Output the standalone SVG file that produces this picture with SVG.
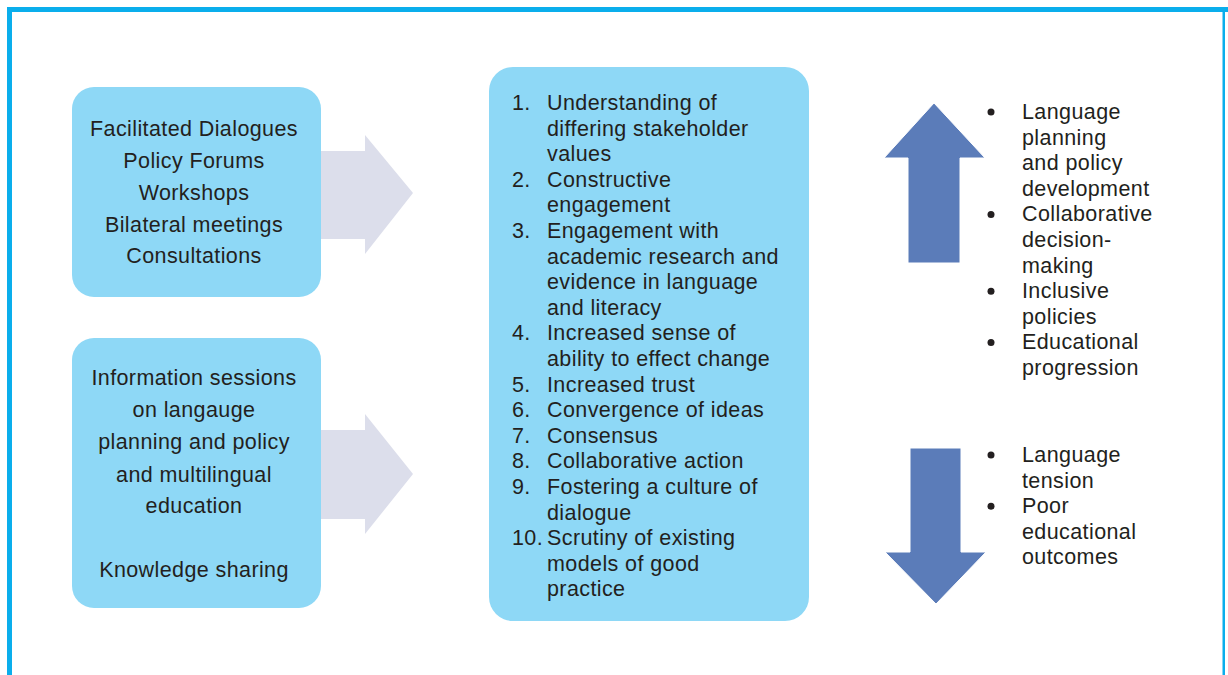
<svg xmlns="http://www.w3.org/2000/svg" width="1228" height="675" viewBox="0 0 1228 675">
<style>
.box{fill:#8ED8F6}
.flow{fill:#DCDEEB}
.big{fill:#5B7CB9;stroke:#FFFFFF;stroke-width:1}
text{font-family:"Liberation Sans",Arial,sans-serif;font-size:21.5px;letter-spacing:0.4px;fill:#231F20}
.c{text-anchor:middle}
.dot{fill:#231F20}
</style>
<rect x="0" y="0" width="1228" height="675" fill="#FFFFFF"/>
<g id="frame" fill="#0AAEEC">
<rect x="7" y="7" width="1221" height="5"/>
<rect x="7" y="7" width="5" height="668"/>
<rect x="1222.5" y="7" width="2.5" height="668"/>
</g>
<g id="connectors">
<polygon class="flow" points="321,151 365,151 365,135 413,193 365,254 365,239 321,239"/>
<polygon class="flow" points="321,430 365,430 365,414 413,474 365,534 365,519 321,519"/>
</g>
<g id="inputs1">
<rect class="box" x="72" y="87" width="249" height="210" rx="22"/>
<text class="c" x="194" y="136">Facilitated Dialogues</text>
<text class="c" x="194" y="168">Policy Forums</text>
<text class="c" x="194" y="200">Workshops</text>
<text class="c" x="194" y="232">Bilateral meetings</text>
<text class="c" x="194" y="263">Consultations</text>
</g>
<g id="inputs2">
<rect class="box" x="72" y="338" width="249" height="270" rx="22"/>
<text class="c" x="194" y="385">Information sessions</text>
<text class="c" x="194" y="417">on langauge</text>
<text class="c" x="194" y="449">planning and policy</text>
<text class="c" x="194" y="482">and multilingual</text>
<text class="c" x="194" y="513">education</text>
<text class="c" x="194" y="577">Knowledge sharing</text>
</g>
<g id="outcomes">
<rect class="box" x="489" y="67" width="320" height="554" rx="24"/>
<text x="512" y="110">1.</text><text x="547" y="110">Understanding of</text>
<text x="547" y="135.6">differing stakeholder</text>
<text x="547" y="161.2">values</text>
<text x="512" y="186.8">2.</text><text x="547" y="186.8">Constructive</text>
<text x="547" y="212.4">engagement</text>
<text x="512" y="238">3.</text><text x="547" y="238">Engagement with</text>
<text x="547" y="263.6">academic research and</text>
<text x="547" y="289.2">evidence in language</text>
<text x="547" y="314.8">and literacy</text>
<text x="512" y="340.4">4.</text><text x="547" y="340.4">Increased sense of</text>
<text x="547" y="366">ability to effect change</text>
<text x="512" y="391.6">5.</text><text x="547" y="391.6">Increased trust</text>
<text x="512" y="417.2">6.</text><text x="547" y="417.2">Convergence of ideas</text>
<text x="512" y="442.8">7.</text><text x="547" y="442.8">Consensus</text>
<text x="512" y="468.4">8.</text><text x="547" y="468.4">Collaborative action</text>
<text x="512" y="494">9.</text><text x="547" y="494">Fostering a culture of</text>
<text x="547" y="519.6">dialogue</text>
<text x="512" y="545.2">10.</text><text x="547" y="545.2">Scrutiny of existing</text>
<text x="547" y="570.8">models of good</text>
<text x="547" y="596.4">practice</text>
</g>
<g id="positive">
<polygon class="big" points="934,103 985,158 960,158 960,263 908,263 908,158 884,158"/>
<circle class="dot" cx="991" cy="112" r="3.5"/><text x="1022" y="119">Language</text>
<text x="1022" y="144.6">planning</text>
<text x="1022" y="170.2">and policy</text>
<text x="1022" y="195.8">development</text>
<circle class="dot" cx="991" cy="214.4" r="3.5"/><text x="1022" y="221.4">Collaborative</text>
<text x="1022" y="247">decision-</text>
<text x="1022" y="272.6">making</text>
<circle class="dot" cx="991" cy="291.2" r="3.5"/><text x="1022" y="298.2">Inclusive</text>
<text x="1022" y="323.8">policies</text>
<circle class="dot" cx="991" cy="342.4" r="3.5"/><text x="1022" y="349.4">Educational</text>
<text x="1022" y="375">progression</text>
</g>
<g id="negative">
<polygon class="big" points="910,448 961,448 961,552 986,552 936,604 885,552 910,552"/>
<circle class="dot" cx="991" cy="455" r="3.5"/><text x="1022" y="462">Language</text>
<text x="1022" y="487.6">tension</text>
<circle class="dot" cx="991" cy="506.2" r="3.5"/><text x="1022" y="513.2">Poor</text>
<text x="1022" y="538.8">educational</text>
<text x="1022" y="564.4">outcomes</text>
</g>
</svg>
